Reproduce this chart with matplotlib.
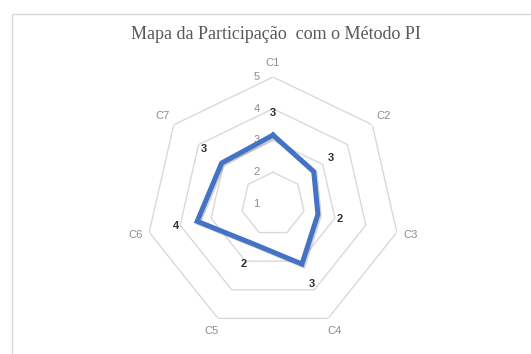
import numpy as np
import matplotlib.pyplot as plt
import matplotlib.patheffects as pe
from matplotlib.patches import Rectangle

# dados do grafico
categorias = ["C1", "C2", "C3", "C4", "C5", "C6", "C7"]
valores = [3.17, 2.64, 2.45, 3.1, 2.4, 3.45, 3.07]
rotulos = ["3", "3", "2", "3", "2", "4", "3"]
niveis = [1, 2, 3, 4, 5]

n = len(categorias)
ang = np.arange(n) * 2 * np.pi / n
ang_fechado = np.append(ang, ang[0])

fig = plt.figure(figsize=(5.31, 3.54), dpi=100)
fig.patches.append(Rectangle((12 / 531, -0.05), 1.1, 1 - 14 / 354 + 0.05,
                             transform=fig.transFigure, fill=False,
                             edgecolor="#d9d9d9", lw=1))

ax = fig.add_axes([0.275, 0.065, 0.4783, 0.7175], projection="polar")
ax.set_theta_offset(np.pi / 2)
ax.set_theta_direction(-1)
ax.set_rlim(1, 5)
ax.grid(False)
ax.spines["polar"].set_visible(False)
ax.set_xticks([])
ax.set_yticks([])
ax.patch.set_alpha(0)

# grade em heptagonos
for r in niveis[1:]:
    ax.plot(ang_fechado, [r] * (n + 1), color="#d9d9d9", lw=1, zorder=1)

# rotulos do eixo radial
for r in niveis:
    ax.annotate(str(r), xy=(0, r), xytext=(-12, 0), textcoords="offset points",
                ha="center", va="center", fontsize=8, color="#8c8c8c",
                family="Liberation Sans", annotation_clip=False)

# serie
v = np.append(valores, valores[0])
ax.plot(ang_fechado, v, color="#4472C4", lw=3.6, zorder=3,
        solid_joinstyle="miter",
        path_effects=[pe.SimpleLineShadow(offset=(1, -1), alpha=0.35, shadow_color="gray"),
                      pe.Normal()])

# rotulos de dados
for a, val, txt in zip(ang, valores, rotulos):
    ax.text(a, val + 0.7, txt, ha="center", va="center", fontsize=8,
            fontweight="bold", color="#303030", family="Liberation Sans",
            clip_on=False)

# categorias
for a, c in zip(ang, categorias):
    ax.text(a, 5.45, c, ha="center", va="center", fontsize=8,
            color="#8c8c8c", family="Liberation Sans", clip_on=False)

fig.text(0.52, 0.902, "Mapa da Participação  com o Método PI", ha="center", va="center",
         fontsize=13, color="#595959", family="Liberation Serif")

fig.savefig("out.png", dpi=100)
